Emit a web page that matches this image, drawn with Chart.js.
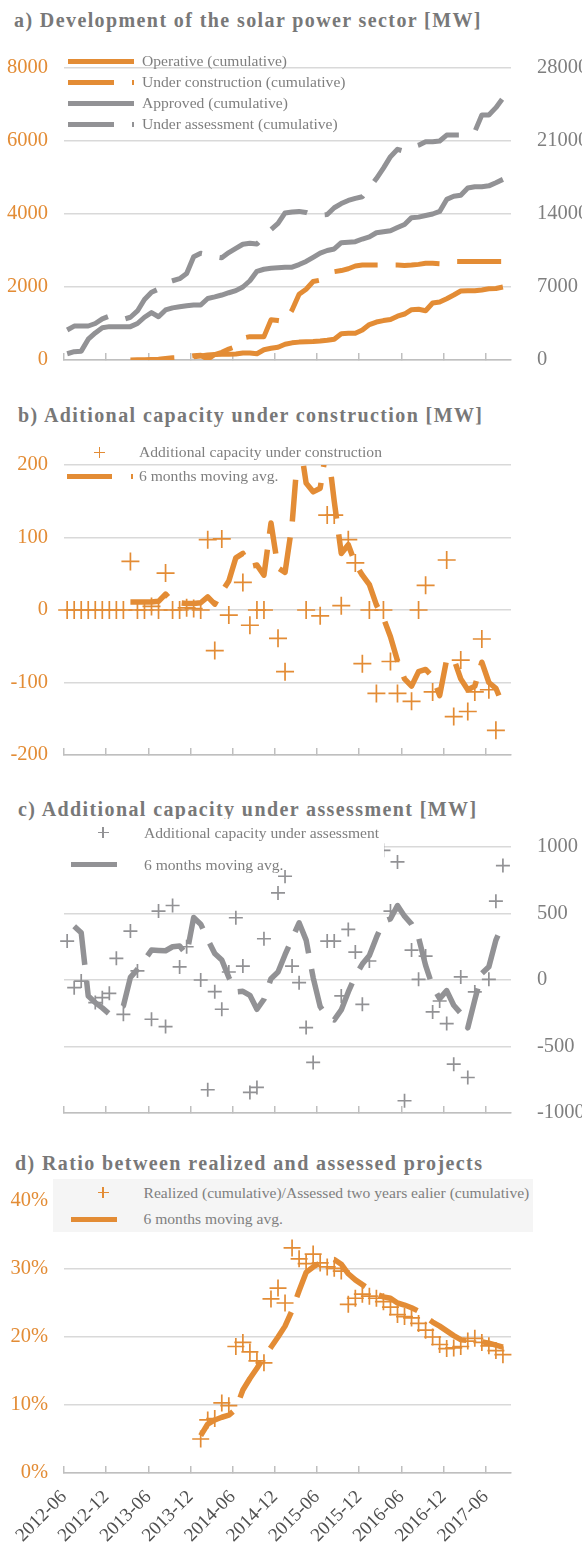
<!DOCTYPE html>
<html>
<head>
<meta charset="utf-8">
<script src="https://cdn.jsdelivr.net/npm/chart.js@4.4.1/dist/chart.umd.min.js"></script>
<style>
  html, body { margin: 0; padding: 0; background: #fff; }
  body { width: 582px; height: 1549px; position: relative; overflow: hidden; font-family: "Liberation Serif", "Times New Roman", serif; }
  canvas { position: absolute; left: 0; }
  .title { position: absolute; font-size: 20px; font-weight: bold; color: #787878; letter-spacing: 1.4px; white-space: nowrap; line-height: 24px; }
  .leg { position: absolute; font-size: 15.6px; color: #7f7f7f; white-space: nowrap; line-height: 18px; }
  .bar { position: absolute; height: 5px; }
  .plus { position: absolute; width: 11px; height: 11px; }
  .plus::before, .plus::after { content: ''; position: absolute; background: currentColor; }
  .plus::before { left: 0; right: 0; top: 4.75px; height: 1.5px; }
  .plus::after { top: 0; bottom: 0; left: 4.75px; width: 1.5px; }
  .box { position: absolute; }
</style>
</head>
<body>

<div class="title" style="left:14px;top:8px">a) Development of the solar power sector [MW]</div>
<canvas id="ca" width="620" height="324" style="top:48px;width:620px;height:324px"></canvas>
<div class="bar" style="left:68px;top:58.5px;width:66px;background:#E38C35"></div>
<div class="leg" style="left:142px;top:52px">Operative (cumulative)</div>
<div class="bar" style="left:68px;top:79.5px;width:46px;background:#E38C35"></div>
<div class="bar" style="left:132px;top:79.5px;width:2px;background:#E38C35"></div>
<div class="leg" style="left:142px;top:73px">Under construction (cumulative)</div>
<div class="bar" style="left:68px;top:100.5px;width:66px;background:#929295"></div>
<div class="leg" style="left:142px;top:94px">Approved (cumulative)</div>
<div class="bar" style="left:68px;top:121.5px;width:46px;background:#929295"></div>
<div class="bar" style="left:132px;top:121.5px;width:2px;background:#929295"></div>
<div class="leg" style="left:142px;top:115px">Under assessment (cumulative)</div>

<div class="title" style="left:18px;top:403px">b) Aditional capacity under construction [MW]</div>
<canvas id="cb" width="620" height="322" style="top:445px;width:620px;height:322px"></canvas>
<div class="plus" style="left:94px;top:447px;color:#E38C35"></div>
<div class="leg" style="left:139px;top:443px">Additional capacity under construction</div>
<div class="bar" style="left:67px;top:473.5px;width:45px;background:#E38C35"></div>
<div class="bar" style="left:131px;top:473.5px;width:2px;background:#E38C35"></div>
<div class="leg" style="left:139px;top:467px">6 months moving avg.</div>

<div class="title" style="left:18px;top:797px">c) Additional capacity under assessment [MW]</div>
<canvas id="cc" width="620" height="298" style="top:827px;width:620px;height:298px"></canvas>
<div class="box" style="left:52px;top:819px;width:332px;height:51px;background:#fff"></div>
<div class="plus" style="left:97.5px;top:827px;color:#929295"></div>
<div class="leg" style="left:144px;top:823.5px">Additional capacity under assessment</div>
<div class="bar" style="left:71px;top:862px;width:46px;background:#929295"></div>
<div class="leg" style="left:144px;top:855.5px">6 months moving avg.</div>

<div class="title" style="left:15px;top:1151px">d) Ratio between realized and assessed projects</div>
<canvas id="cd" width="620" height="368" style="top:1181px;width:620px;height:368px"></canvas>
<div class="box" style="left:53px;top:1179px;width:480px;height:53px;background:#F5F5F5"></div>
<div class="plus" style="left:97.5px;top:1187px;color:#E38C35"></div>
<div class="leg" style="left:143.5px;top:1184px">Realized (cumulative)/Assessed two years ealier (cumulative)</div>
<div class="bar" style="left:71px;top:1216.5px;width:46px;background:#E38C35"></div>
<div class="leg" style="left:143.5px;top:1210px">6 months moving avg.</div>

<script>
const months = [
  '2012-06', '2012-07', '2012-08', '2012-09', '2012-10', '2012-11', '2012-12',
  '2013-01', '2013-02', '2013-03', '2013-04', '2013-05', '2013-06', '2013-07', '2013-08', '2013-09', '2013-10', '2013-11', '2013-12',
  '2014-01', '2014-02', '2014-03', '2014-04', '2014-05', '2014-06', '2014-07', '2014-08', '2014-09', '2014-10', '2014-11', '2014-12',
  '2015-01', '2015-02', '2015-03', '2015-04', '2015-05', '2015-06', '2015-07', '2015-08', '2015-09', '2015-10', '2015-11', '2015-12',
  '2016-01', '2016-02', '2016-03', '2016-04', '2016-05', '2016-06', '2016-07', '2016-08', '2016-09', '2016-10', '2016-11', '2016-12',
  '2017-01', '2017-02', '2017-03', '2017-04', '2017-05', '2017-06', '2017-07', '2017-08'
];
const tickLabels = ['2012-06', '2012-12', '2013-06', '2013-12', '2014-06', '2014-12', '2015-06', '2015-12', '2016-06', '2016-12', '2017-06'];

// a) cumulative MW (operative / under construction on left axis, approved / assessment on right axis)
const operative = [
  null, null, null, null, null, null, null, null, null, null, null, null, null, null, null, null, null, null,
  90, 110, 140, 150, 160, 160, 165, 190, 190, 170, 280, 320, 350, 430, 470, 490, 500, 505, 520, 540, 570,
  720, 730, 735, 820, 970, 1040, 1080, 1110, 1200, 1260, 1380, 1390, 1350, 1560, 1590, 1680, 1780, 1890,
  1900, 1900, 1920, 1950, 1960, 2000
];
const underConstruction = [
  null, null, null, null, null, null, null, null, null,
  0, 5, 10, 15, 20, 40, 60, 70, 90, 115, 130, 20, 150, 210, 300, 370, 600, 640, 640, 640, 1100, 1080, 1050,
  1370, 1800, 1940, 2150, 2190, 2300, 2420, 2450, 2500, 2575, 2600, 2600, 2600, 2600, 2600, 2600, 2590, 2600,
  2620, 2650, 2650, 2640, 2700, 2700, 2700, 2700, 2700, 2700, 2700, 2700, 2700
];
const approved = [
  600, 800, 850, 2000, 2600, 3100, 3200, 3200, 3200, 3200, 3500, 4100, 4540, 4150, 4800, 5000, 5100, 5200,
  5270, 5270, 5900, 6050, 6230, 6450, 6650, 7000, 7600, 8500, 8700, 8790, 8850, 8900, 8900, 9150, 9450, 9850,
  10250, 10500, 10650, 11250, 11300, 11350, 11600, 11800, 12200, 12300, 12400, 12700, 13000, 13650, 13700,
  13850, 14000, 14250, 15400, 15700, 15800, 16500, 16620, 16620, 16700, 17000, 17320
];
const underAssessment = [
  2880, 3250, 3260, 3260, 3500, 3950, 4200, 4100, 3900, 4100, 4700, 5800, 6500, 6800, 7400, 7600, 7800, 8300,
  9900, 10230, 10100, 9900, 9800, 10300, 10700, 11100, 11200, 11120, 11800, 12500, 13100, 14100, 14200, 14250,
  14150, 13900, 13900, 13950, 14600, 15000, 15300, 15500, 15650, 16500, 17400, 18400, 19500, 20200, 20000,
  20400, 20600, 20930, 20930, 21000, 21570, 21570, 21570, 21700, 21900, 23490, 23490, 24200, 25100
];

// b) additional capacity under construction [MW]
const addConstruction = [
  0, 0, 0, 0, 0, 0, 0, 0, 0, 67, 0, 0, 5, 0, 51, 0, 0, 3, 2, 0, 97, -56, 98, -7, null, 38, -21, 0, 0, null,
  -39, -85, null, null, 0, null, -8, 131, 131, 6, 97, 65, -74, 0, -115, 0, -71, -115, null, -126, 0, 34, -113,
  null, 69, -147, -69, -140, -113, -40, -110, -166, null
];
const addConstructionAvg = [
  null, null, null, null, null, null, null, null, null,
  11, 11, 11, 11, 12, 22, 11, 10, 9, 9, 10, 18, 8, 25, 40, 72, 78, 60, 62, 48, 120, 58, 52, 118, 240, 175,
  163, 168, 230, 150, 78, 90, 64, 48, 35, 7, -11, -37, -70, -95, -105, -85, -82, -92, -118, -68, -67, -95,
  -110, -105, -72, -100, -108, -131
];

// c) additional capacity under assessment [MW]
const addAssessment = [
  293, -58, -8, null, -170, -133, -100, 163, -258, 368, 68, null, -295, 518, -350, 560, 98, 250, null, 0,
  -825, -88, -220, 60, 468, 105, -845, -808, 310, null, 655, 780, 105, -20, -358, -620, null, 293, 293, -120,
  380, 210, -183, 143, null, 975, 518, 888, -908, 225, 5, 180, -240, -158, -328, -633, 23, -733, -90, null,
  5, 593, 860
];
const addAssessmentAvg = [
  null, 405, 355, -120, -170, -210, -255, -225, -195, 20, 80, 150, 225, 222, 220, 250, 255, 190, 470, 420,
  305, 200, 150, 20, -90, -85, -115, -220, -145, 10, 60, 190, 310, 430, 300, 18, -200, -280, -300, -225, -90,
  30, 120, 185, 320, 440, 460, 560, 480, 420, 320, 110, -50, -140, -80, -190, -250, -360, -150, 50, 100, 300, 420
];

// d) realized / assessed two years earlier [%]
const ratio = [
  null, null, null, null, null, null, null, null, null, null, null, null, null, null, null, null, null, null, null,
  5.0, 7.8, 8.0, 10.3, 9.9, 18.6, 19.2, 17.8, 16.5, 16.2, 25.6, 27.2, 25.0, 33.1, 31.5, 30.8, 32.2, 30.9, 30.3,
  30.1, 29.7, 24.8, 25.7, 26.3, 26.0, 25.7, 25.2, 24.4, 23.3, 23.0, 22.8, 22.0, 21.0, 20.0, 18.9, 18.3, 18.4,
  18.6, 19.4, 19.8, 19.2, 18.7, 18.0, 17.4
];
const ratioAvg = [
  null, null, null, null, null, null, null, null, null, null, null, null, null, null, null, null, null, null, null,
  5.5, 7.2, 7.8, 8.2, 8.5, 9.4, 12.2, 13.9, 15.4, 17.0, 18.5, 20.0, 21.6, 23.9, 26.8, 29.5, 30.3, 30.9, 31.4,
  31.4, 30.7, 29.3, 28.4, 27.7, 27.0, 26.3, 25.9, 25.7, 25.0, 24.7, 24.3, 23.8, 22.9, 22.2, 21.6, 20.9, 20.2,
  19.6, 19.5, 19.4, 19.3, 19.1, 18.8, 18.5
];

const ORANGE = '#E38C35';
const GRAY = '#929295';
const GRID = '#D9D9D9';
const AXIS = '#BFBFBF';
const SERIF = '"Liberation Serif", "Times New Roman", serif';
const CANVAS_W = 620, AREA_L = 64, AREA_R = 511;

// points sit in the middle of their month; ticks mark month starts
const pts = arr => arr.map((v, i) => ({ x: i + 0.45, y: v }));
const tickIdx = tickLabels.map(t => months.indexOf(t));

function xScale(withLabels) {
  return {
    type: 'linear', min: 0, max: 63.6,
    afterBuildTicks: ax => { ax.ticks = tickIdx.map(v => ({ value: v })); },
    afterFit: ax => {
      ax.height = withLabels ? 76 : 12;
      ax.paddingLeft = 0; ax.paddingRight = 0;
    },
    grid: { drawOnChartArea: false, drawTicks: true, tickLength: -7, color: AXIS, lineWidth: 1.5 },
    border: { display: true, color: AXIS, width: 1.5 },
    ticks: {
      display: withLabels, autoSkip: false, minRotation: 45, maxRotation: 45, padding: 20,
      color: '#505050', font: { family: SERIF, size: 19 },
      callback: v => months[v]
    }
  };
}

function yScale(pos, min, max, step, color, grid, fmt) {
  return {
    position: pos, min: min, max: max,
    ticks: { stepSize: step, color: color, font: { family: SERIF, size: 20.5 }, padding: pos === 'left' ? 16 : 26,
             callback: fmt || (v => String(v)) },
    grid: { display: grid, color: GRID, lineWidth: 1.5, drawTicks: false },
    border: { display: false },
    afterFit: ax => {
      ax.width = pos === 'left' ? AREA_L : CANVAS_W - AREA_R;
      ax.paddingTop = 0; ax.paddingBottom = 0;
    }
  };
}

function lineDs(label, data, color, dash, axis, width) {
  return {
    label, data: pts(data), yAxisID: axis, borderColor: color, borderWidth: width,
    borderDash: dash || [], borderCapStyle: 'butt', borderJoinStyle: 'round',
    pointRadius: 0, tension: 0, fill: false, clip: 0
  };
}

function crossDs(label, data, color, r, axis) {
  return {
    label, data: pts(data), yAxisID: axis, showLine: false, pointStyle: 'cross',
    pointRadius: r, pointHoverRadius: r, pointBorderColor: color, pointBackgroundColor: color,
    pointBorderWidth: 1.7, borderColor: color, clip: false
  };
}

function makeChart(id, datasets, scales, padding) {
  return new Chart(document.getElementById(id), {
    type: 'line',
    data: { datasets: datasets },
    options: {
      responsive: false, animation: false, devicePixelRatio: 1, events: [],
      layout: { padding: padding, autoPadding: false },
      plugins: { legend: { display: false }, tooltip: { enabled: false } },
      scales: scales
    }
  });
}

const DASH_A = [44, 18];
const DASH_MA = [42, 16];

makeChart('ca', [
  lineDs('Under assessment (cumulative)', underAssessment, GRAY, DASH_A, 'yR', 5),
  lineDs('Approved (cumulative)', approved, GRAY, null, 'yR', 5),
  lineDs('Under construction (cumulative)', underConstruction, ORANGE, DASH_A, 'yL', 5),
  lineDs('Operative (cumulative)', operative, ORANGE, null, 'yL', 5)
], {
  x: xScale(false),
  yL: yScale('left', 0, 8000, 2000, ORANGE, true),
  yR: yScale('right', 0, 28000, 7000, '#7f7f7f', false)
}, { top: 20, left: 0, right: 0, bottom: 0 });

makeChart('cb', [
  lineDs('6 months moving avg.', addConstructionAvg, ORANGE, DASH_MA, 'y', 5.5),
  crossDs('Additional capacity under construction', addConstruction, ORANGE, 9, 'y')
], {
  x: xScale(false),
  y: yScale('left', -200, 200, 100, ORANGE, true)
}, { top: 20, left: 0, right: CANVAS_W - AREA_R, bottom: 0 });

makeChart('cc', [
  lineDs('6 months moving avg.', addAssessmentAvg, GRAY, DASH_MA, 'y', 5.5),
  crossDs('Additional capacity under assessment', addAssessment, GRAY, 7, 'y')
], {
  x: xScale(false),
  y: yScale('right', -1000, 1000, 500, '#7f7f7f', true)
}, { top: 20, left: AREA_L, right: 0, bottom: 0 });

makeChart('cd', [
  lineDs('6 months moving avg.', ratioAvg, ORANGE, DASH_MA, 'y', 5.5),
  crossDs('Realized (cumulative)/Assessed two years ealier (cumulative)', ratio, ORANGE, 8.5, 'y')
], {
  x: xScale(true),
  y: yScale('left', 0, 40, 10, ORANGE, true, v => v + '%')
}, { top: 20, left: 0, right: CANVAS_W - AREA_R, bottom: 0 });
</script>
</body>
</html>
